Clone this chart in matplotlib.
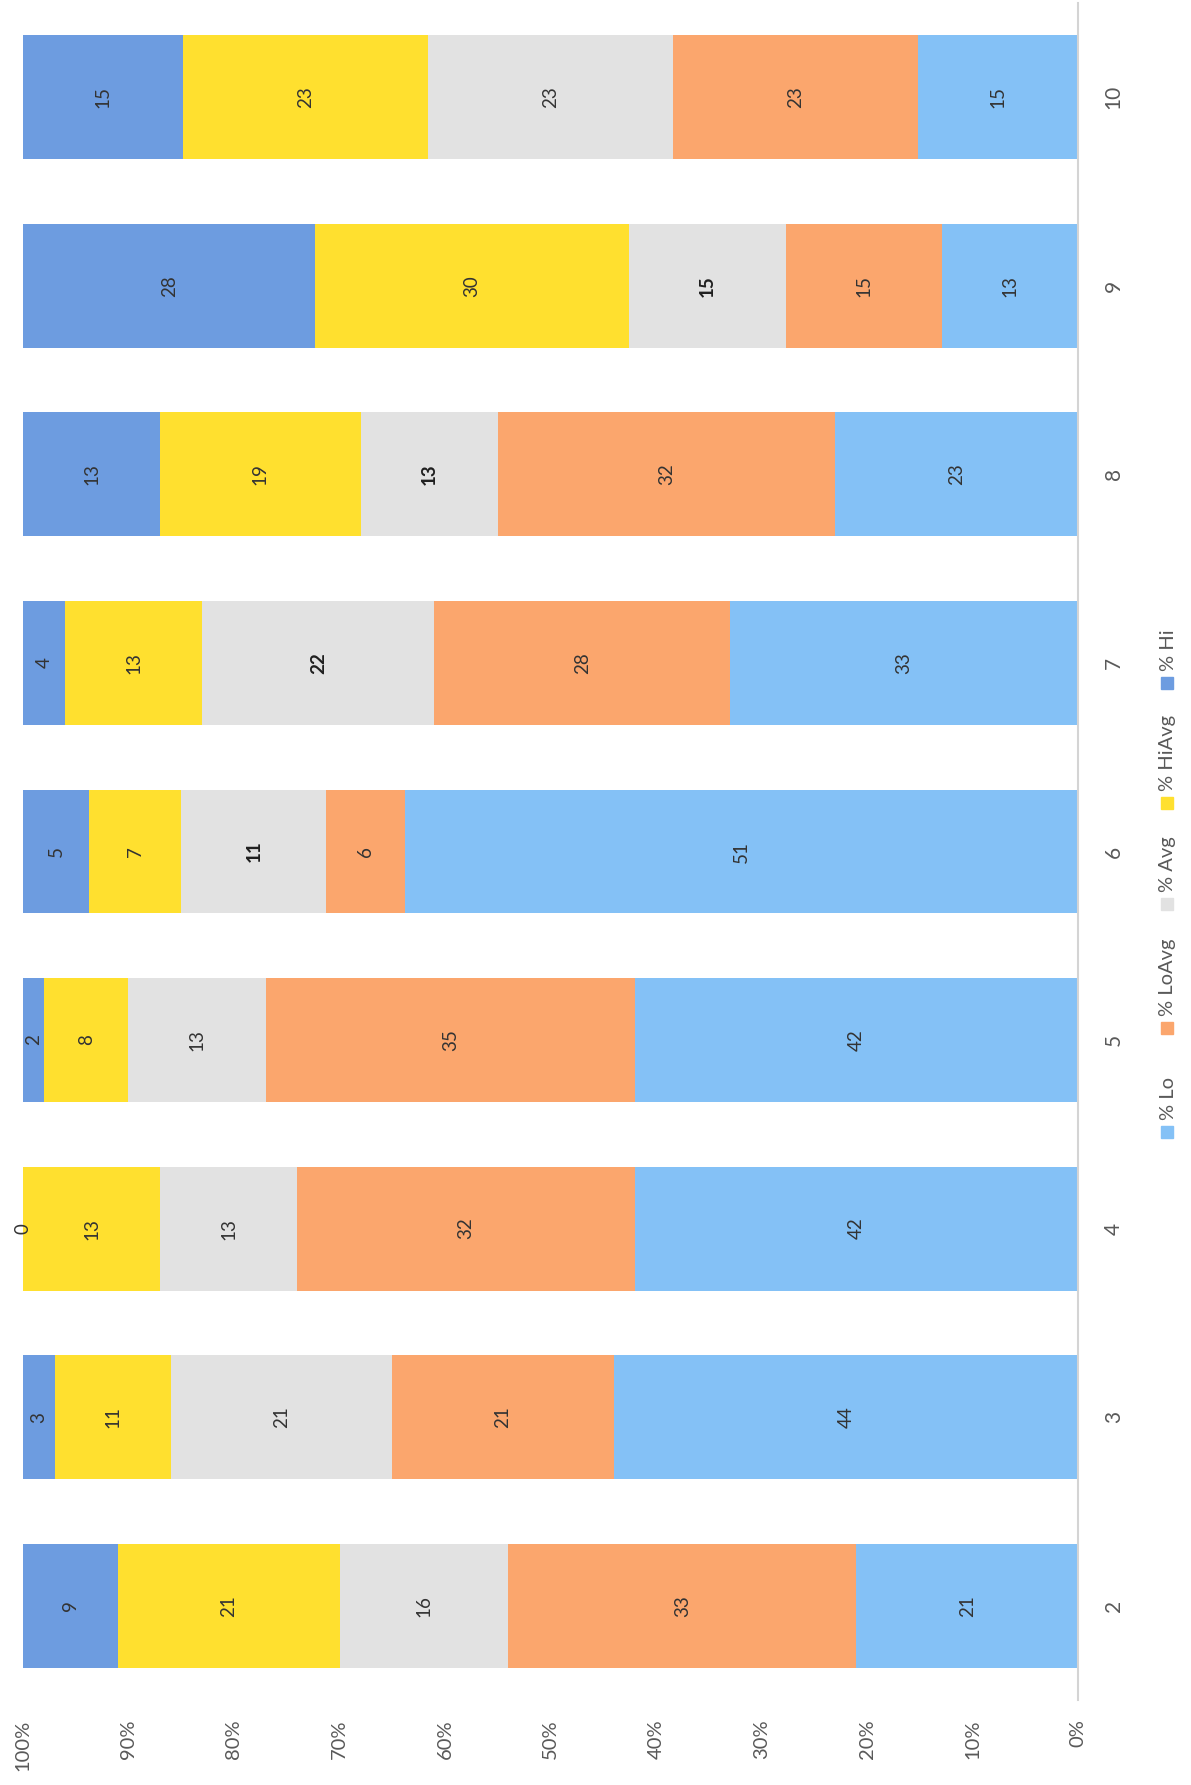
import matplotlib

matplotlib.use("Agg")
import matplotlib.pyplot as plt
from matplotlib.patches import Rectangle
import numpy as np

plt.rcParams["font.family"] = ["Lato", "DejaVu Sans"]

# data: counts per category, drawn as 100% stacked bars
categories = [2, 3, 4, 5, 6, 7, 8, 9, 10]
lo = [21, 44, 42, 42, 51, 33, 23, 13, 15]
lo_avg = [33, 21, 32, 35, 6, 28, 32, 15, 23]
avg = [16, 21, 13, 13, 11, 22, 13, 15, 23]
hi_avg = [21, 11, 13, 8, 7, 13, 19, 30, 23]
hi = [9, 3, 0, 2, 5, 4, 13, 28, 15]
series_names = ["% Lo", "% LoAvg", "% Avg", "% HiAvg", "% Hi"]
bold_avg = [6, 7, 8, 9]
pct_ticks = [0, 10, 20, 30, 40, 50, 60, 70, 80, 90, 100]

colors = ["#84C1F6", "#FBA66D", "#E2E2E2", "#FFE02F", "#6D9CE0"]

W, H = 1191, 1785
fig = plt.figure(figsize=(W / 100, H / 100), dpi=100)
ax = fig.add_axes([23 / W, 85 / H, (1078 - 23) / W, (1700 - 3) / H])

series = np.array([lo, lo_avg, avg, hi_avg, hi], dtype=float)
totals = series.sum(axis=0)
pct = series / totals * 100
y = np.array(categories)
left = np.zeros(len(categories))
for k, name in enumerate(series_names):
    ax.barh(y, pct[k], left=left, height=0.657, color=colors[k], label=name)
    for j, cat in enumerate(categories):
        bold = (k == 2 and cat in bold_avg)
        ax.text(left[j] + pct[k][j] / 2, cat, f"{int(series[k][j])}",
                rotation=90, ha="center", va="center", fontsize=13.5,
                color="#1f1f1f" if bold else "#333333",
                fontweight="bold" if bold else "normal")
    left += pct[k]

ax.set_xlim(100, 0)
ax.set_ylim(1.5, 10.5)
for s in ["top", "left", "bottom"]:
    ax.spines[s].set_visible(False)
ax.spines["right"].set_color("#D4D4D4")
ax.spines["right"].set_linewidth(1.5)

ax.set_xticks(pct_ticks)
ax.set_xticklabels([f"{t}%" for t in pct_ticks], rotation=90, fontsize=14.5,
                   color="#595959")
ax.tick_params(axis="x", length=0, pad=14)
ax.yaxis.tick_right()
ax.set_yticks(categories)
ax.set_yticklabels([str(c) for c in categories], rotation=90, fontsize=15,
                   color="#595959", va="center")
ax.tick_params(axis="y", length=0, pad=18.5)

# legend, rotated like the rest of the chart
leg_x = 1167
marker_y = [1132, 1028, 904, 803, 683]
for k, name in enumerate(series_names):
    my = marker_y[k]
    fig.patches.append(Rectangle(((leg_x - 6) / W, (H - my - 6) / H), 12 / W, 12 / H,
                                 transform=fig.transFigure, color=colors[k]))
    fig.text((leg_x + 1) / W, (H - my + 12) / H, name, rotation=90, ha="center",
             va="bottom", fontsize=14.5, color="#595959")

fig.savefig("out.png", dpi=100)
